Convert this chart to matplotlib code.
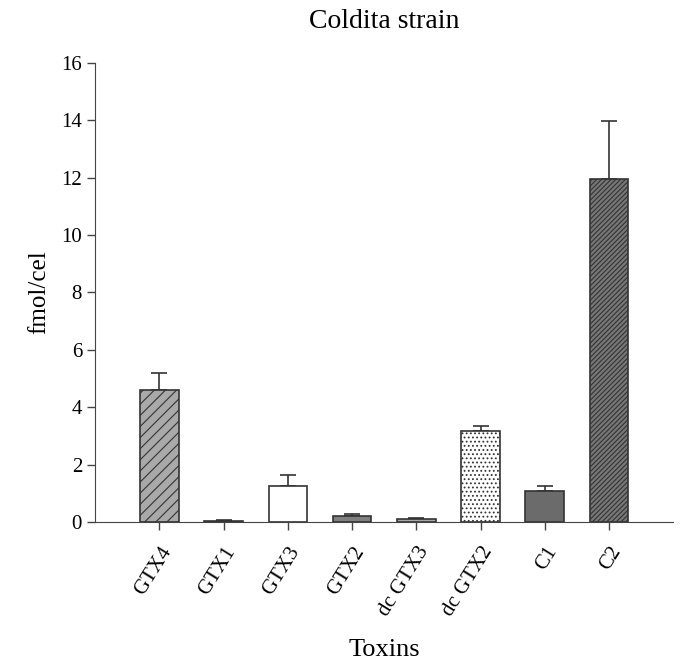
import matplotlib.pyplot as plt

toxinas = ["GTX4", "GTX1", "GTX3", "GTX2", "dc GTX3", "dc GTX2", "C1", "C2"]
vrijednosti = [4.60, 0.05, 1.27, 0.22, 0.10, 3.17, 1.08, 11.94]
greske = [0.58, 0.02, 0.36, 0.08, 0.05, 0.18, 0.19, 2.05]
boje = ["#a9a9a9", "#404040", "#ffffff", "#808080", "#a8a8a8", "#ffffff", "#6b6b6b", "#777777"]
srafure = ["///", "", "", "", "", "....", "", "///////"]

plt.rcParams["font.family"] = "Liberation Serif"
plt.rcParams["hatch.linewidth"] = 0.8

fig = plt.figure(figsize=(6.8, 6.61), dpi=100)
ax = fig.add_axes([0.14, 0.21, 0.85, 0.695])

x = list(range(len(toxinas)))
for i in x:
    ax.bar(i, vrijednosti[i], width=0.6, color=boje[i], edgecolor="#333333",
           linewidth=1.2, hatch=srafure[i], zorder=2)
    ax.errorbar(i, vrijednosti[i], yerr=[[0], [greske[i]]], fmt="none",
                ecolor="#333333", elinewidth=1.2, capsize=6, capthick=1.2, zorder=1)

ax.set_xlim(-1, 8)
ax.set_ylim(0, 16)
ax.set_yticks(range(0, 17, 2))
ax.set_xticks(x)
ax.set_xticklabels(toxinas, rotation=58, ha="right", rotation_mode="anchor", fontsize=15)
ax.tick_params(axis="y", labelsize=15, length=6, width=1, color="#444444")
ax.tick_params(axis="x", length=6, width=1, color="#444444", pad=9)
ax.spines["top"].set_visible(False)
ax.spines["right"].set_visible(False)
ax.spines["left"].set_color("#444444")
ax.spines["bottom"].set_color("#444444")

ax.set_title("Coldita strain", fontsize=20, pad=25)
ax.set_xlabel("Toxins", fontsize=19, labelpad=14)
ax.set_ylabel("fmol/cel", fontsize=18, labelpad=8)

plt.savefig("out.png", dpi=100)
